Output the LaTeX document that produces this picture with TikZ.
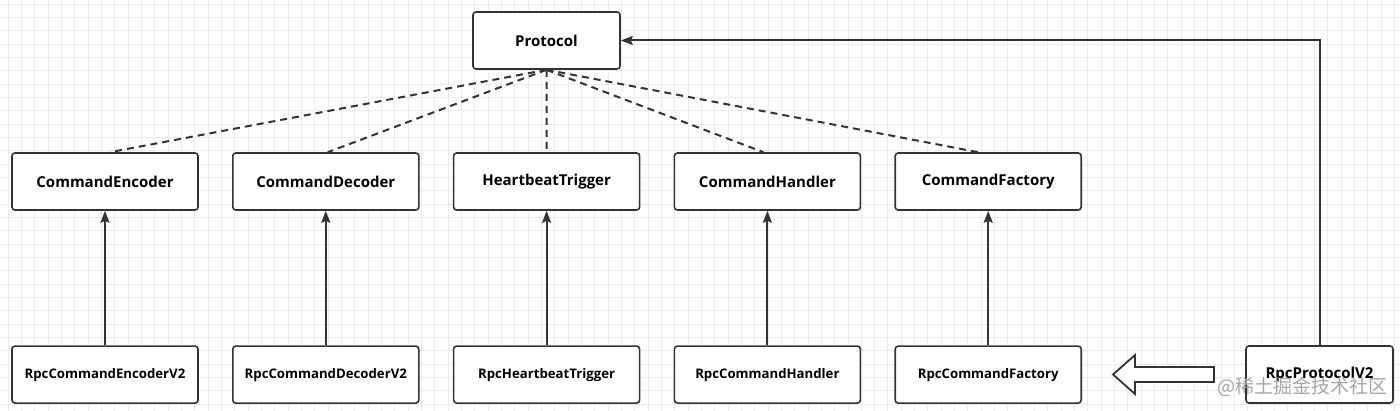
\documentclass[tikz,border=0pt]{standalone}
\usepackage{fontspec}
\setmainfont{Open Sans}
\newfontfamily\cjkfont{Noto Sans CJK SC}
\usepackage{tikz}
\usetikzlibrary{arrows.meta}
\usetikzlibrary{positioning}

\begin{document}
\begin{tikzpicture}[x=1pt, y=1pt,
    every node/.style = {shape=rectangle, rounded corners=3pt,
      draw=black!80, line width=1.6pt, align=center,
      fill=white, inner sep=0pt, font=\bfseries\fontsize{15}{17}\selectfont},
    classbox/.style = {minimum width=186pt, minimum height=57pt},
    implbox/.style = {classbox, font=\bfseries\fontsize{13.2}{15}\selectfont},
    topbox/.style = {minimum width=147pt, minimum height=57pt},
    realize/.style = {draw=black!80, line width=2pt,
      dash pattern=on 7pt off 5pt},
    inherit/.style = {draw=black!80, line width=2pt,
      -{Stealth[length=12pt, width=9pt, inset=2pt]}},
    gridline/.style = {draw=black!8, line width=0.6pt},
    watermark/.style = {draw=none, fill=none, text=black!35,
      font=\cjkfont\fontsize{19}{21}\selectfont}]

    % background grid
    \useasboundingbox (0,0) rectangle (1400,-411);
    \fill[white] (0,0) rectangle (1400,-411);
    \begin{scope}[shift={(8,-4)}]
      \draw[gridline, step=13.33] (-8,-411) grid (1392,4);
    \end{scope}

    % interfaces
    \node[topbox] (proto) at (546.5,-40.5) {Protocol};
    \node[classbox] (enc) at (105,-181.5) {CommandEncoder};
    \node[classbox, right=33.2pt of enc] (dec) {CommandDecoder};
    \node[classbox, right=33.2pt of dec] (hb) {HeartbeatTrigger};
    \node[classbox, right=33.2pt of hb] (hdl) {CommandHandler};
    \node[classbox, right=33.2pt of hdl] (fac) {CommandFactory};

    % implementations
    \node[implbox, below=134.5pt of enc] (rpcenc) {RpcCommandEncoderV2};
    \node[implbox, below=134.5pt of dec] (rpcdec) {RpcCommandDecoderV2};
    \node[implbox, below=134.5pt of hb] (rpchb) {RpcHeartbeatTrigger};
    \node[implbox, below=134.5pt of hdl] (rpchdl) {RpcCommandHandler};
    \node[implbox, below=134.5pt of fac] (rpcfac) {RpcCommandFactory};
    \node[topbox] (rpcproto) at (1319.5,-374.5) {RpcProtocolV2};

    % dashed links
    \draw[realize] (proto.south) -- ([xshift=5pt]enc.north);
    \draw[realize] (proto.south) -- ([xshift=2pt]dec.north);
    \draw[realize] (proto.south) -- (hb.north);
    \draw[realize] (proto.south) -- ([xshift=-4pt]hdl.north);
    \draw[realize] (proto.south) -- ([xshift=-10pt]fac.north);

    % inheritance
    \draw[inherit] (rpcenc) -- (enc);
    \draw[inherit] (rpcdec) -- (dec);
    \draw[inherit] (rpchb) -- (hb);
    \draw[inherit] (rpchdl) -- (hdl);
    \draw[inherit] (rpcfac) -- (fac);
    \draw[inherit] (rpcproto.north) |- (proto.east);

    % hollow arrow
    \draw[draw=black!80, line width=1.8pt, line join=miter, fill=white]
      (1214,-367) -- (1135,-367) -- (1135,-355) -- (1113,-374.5)
      -- (1135,-394) -- (1135,-382) -- (1214,-382) -- cycle;

    \node[watermark] (wm) at (1302,-387) {@稀土掘金技术社区};
\end{tikzpicture}
\end{document}
